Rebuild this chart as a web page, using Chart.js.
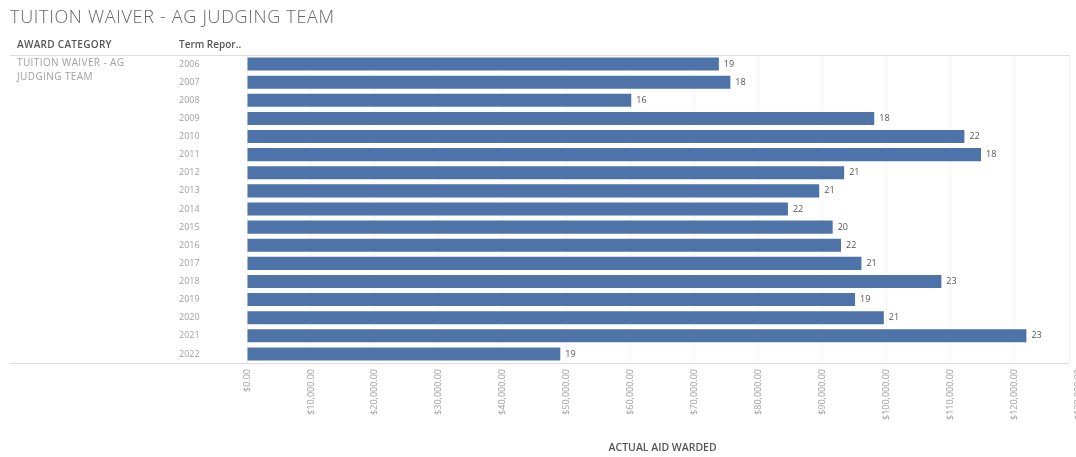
<!DOCTYPE html>
<html>
<head>
<meta charset="utf-8">
<script src="https://cdn.jsdelivr.net/npm/chart.js@4.4.1/dist/chart.umd.min.js"></script>
<style>
  html, body { margin: 0; padding: 0; background: #fff; overflow: hidden; }
  #wrap { position: relative; width: 1095px; height: 457px; }
  canvas { display: block; }
</style>
</head>
<body>
<div id="wrap"><canvas id="c" width="1095" height="457"></canvas></div>
<script>
// Term years on the category axis
const years = ['2006','2007','2008','2009','2010','2011','2012','2013','2014','2015','2016','2017','2018','2019','2020','2021','2022'];
// Actual aid awarded per term (USD)
const aidAwarded = [73800, 75600, 60100, 98100, 112200, 114800, 93400, 89500, 84600, 91600, 92900, 96100, 108600, 95100, 99600, 121900, 49000];
// Number of recipients per term, shown at the end of each bar
const recipients = [19, 18, 16, 18, 22, 18, 21, 21, 22, 20, 22, 21, 23, 19, 21, 23, 19];
// Value-axis tick step and range
const axisMax = 130000;
const axisStep = 10000;

const chartTitle = 'TUITION WAIVER - AG JUDGING TEAM';
const categoryHeader = 'AWARD CATEGORY';
const termHeader = 'Term Repor..';
const categoryLines = ['TUITION WAIVER - AG', 'JUDGING TEAM'];
const axisTitle = 'ACTUAL AID WARDED';

const FONT = '"Open Sans", "Noto Sans", sans-serif';
const PANE_RIGHT = 1070;

const money = v => '$' + v.toLocaleString('en-US', {minimumFractionDigits: 2, maximumFractionDigits: 2});

const decorations = {
  id: 'decorations',
  afterDatasetsDraw(chart) {
    const ctx = chart.ctx;
    ctx.save();
    // recipient counts at bar ends
    const meta = chart.getDatasetMeta(0);
    ctx.font = '9px ' + FONT;
    ctx.fillStyle = '#555';
    ctx.textAlign = 'left';
    ctx.textBaseline = 'middle';
    meta.data.forEach((bar, i) => {
      ctx.fillText(String(recipients[i]), bar.x + 5, bar.y);
    });
    ctx.restore();
  },
  afterDraw(chart) {
    const ctx = chart.ctx;
    const area = chart.chartArea;
    ctx.save();
    ctx.textAlign = 'left';
    ctx.textBaseline = 'middle';
    // title
    ctx.font = '300 18px ' + FONT;
    ctx.letterSpacing = '0.7px';
    ctx.fillStyle = '#666';
    ctx.fillText(chartTitle, 10, 18);
    // column headers
    ctx.font = '600 10px ' + FONT;
    ctx.letterSpacing = '0.3px';
    ctx.fillStyle = '#555';
    ctx.fillText(categoryHeader, 17, 45);
    ctx.letterSpacing = '0px';
    ctx.fillText(termHeader, 179, 45);
    // category cell
    ctx.font = '10px ' + FONT;
    ctx.letterSpacing = '0.4px';
    ctx.fillStyle = '#a0a0a0';
    ctx.fillText(categoryLines[0], 17, 63);
    ctx.fillText(categoryLines[1], 17, 77);
    ctx.letterSpacing = '0px';
    // pane borders
    const bottom = Math.round(area.bottom) + 0.5;
    ctx.strokeStyle = '#dcdcdc';
    ctx.lineWidth = 1;
    ctx.beginPath();
    ctx.moveTo(10, 55.5); ctx.lineTo(PANE_RIGHT, 55.5);
    ctx.moveTo(10, bottom); ctx.lineTo(PANE_RIGHT, bottom);
    ctx.stroke();
    ctx.strokeStyle = '#efefef';
    ctx.beginPath();
    ctx.moveTo(PANE_RIGHT - 0.5, 55.5); ctx.lineTo(PANE_RIGHT - 0.5, bottom);
    ctx.stroke();
    ctx.restore();
  }
};

new Chart(document.getElementById('c'), {
  type: 'bar',
  data: {
    labels: years,
    datasets: [{
      data: aidAwarded,
      backgroundColor: '#4e73a8',
      borderWidth: 0,
      barPercentage: 0.72,
      categoryPercentage: 1.0
    }]
  },
  options: {
    indexAxis: 'y',
    responsive: false,
    animation: false,
    layout: { padding: { left: 179, top: 55, right: 1, bottom: 3 } },
    plugins: { legend: { display: false }, tooltip: { enabled: false } },
    scales: {
      y: {
        border: { display: false },
        grid: { display: false },
        ticks: {
          crossAlign: 'far',
          padding: 0,
          color: '#a0a0a0',
          font: { family: FONT, size: 9 }
        },
        afterFit(scale) { scale.width = 68; }
      },
      x: {
        min: 0,
        max: axisMax,
        border: { display: false },
        grid: { color: '#f3f3f3', drawTicks: false },
        ticks: {
          stepSize: axisStep,
          minRotation: 90,
          maxRotation: 90,
          autoSkip: false,
          padding: 6,
          color: '#a0a0a0',
          font: { family: FONT, size: 9 },
          callback: v => money(v)
        },
        title: {
          display: true,
          text: axisTitle,
          color: '#555',
          font: { family: FONT, size: 10.5, weight: '600' },
          padding: { top: 0, bottom: 0 }
        },
        afterFit(scale) { scale.height = 91; }
      }
    }
  },
  plugins: [decorations]
});
</script>
</body>
</html>
